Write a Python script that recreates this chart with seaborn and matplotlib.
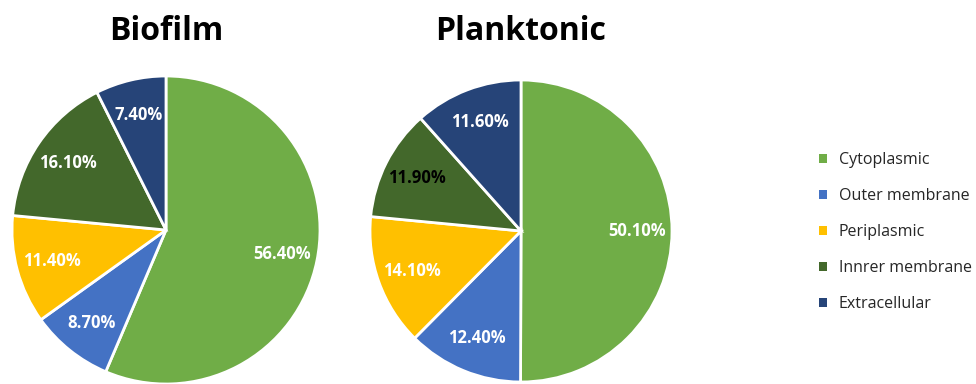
import matplotlib
matplotlib.use("Agg")
import matplotlib.pyplot as plt
from matplotlib.patches import Patch
import seaborn as sns

# Subcellular localisation shares (%), clockwise from 12 o'clock
categories = ["Cytoplasmic", "Outer membrane", "Periplasmic", "Innrer membrane", "Extracellular"]
biofilm = [56.4, 8.7, 11.4, 16.1, 7.4]
planktonic = [50.1, 12.4, 14.1, 11.9, 11.6]
panel_titles = ["Biofilm", "Planktonic"]

colors = ["#70AD47", "#4472C4", "#FFC000", "#43682B", "#264478"]
label_colors = {
    "Biofilm": ["white"] * 5,
    "Planktonic": ["white", "white", "white", "black", "white"],
}

sns.set_theme(style="white")
plt.rcParams["font.family"] = ["Open Sans", "DejaVu Sans"]

W, H = 976, 384
fig = plt.figure(figsize=(W / 100, H / 100), dpi=100)

# (center x, center y from top, radius) in pixels for each pie
geom = [(166, 230, 154), (521, 231, 151)]
titles_x = [166, 521]

for (cx, cy, r), name, vals, tx in zip(geom, panel_titles, [biofilm, planktonic], titles_x):
    half = r + 4
    ax = fig.add_axes([(cx - half) / W, (H - cy - half) / H, 2 * half / W, 2 * half / H])
    wedges, texts, autotexts = ax.pie(
        vals,
        colors=colors,
        startangle=90,
        counterclock=False,
        radius=1.0,
        autopct=lambda p: "",
        pctdistance=0.77,
        wedgeprops=dict(edgecolor="white", linewidth=2),
    )
    for at, v, c in zip(autotexts, vals, label_colors[name]):
        at.set_text(f"{v:.2f}%")
        at.set_color(c)
        at.set_fontsize(12)
        at.set_fontweight("bold")
    lim = half / r
    ax.set_xlim(-lim, lim)
    ax.set_ylim(-lim, lim)
    ax.set_aspect("equal")
    ax.axis("off")
    for w in wedges:
        w.set_clip_on(False)
    fig.text(tx / W, 1 - 31 / H, name, ha="center", va="center",
             fontsize=23, fontweight="bold", color="black")

handles = [Patch(facecolor=c, edgecolor="none") for c in colors]
fig.legend(
    handles, categories,
    loc="center left",
    bbox_to_anchor=(813 / W, 1 - 232 / H),
    frameon=False,
    fontsize=11.5,
    handlelength=0.5,
    handleheight=0.5,
    handletextpad=0.7,
    labelspacing=1.25,
    borderaxespad=0,
)

fig.savefig("out.png", dpi=100)
